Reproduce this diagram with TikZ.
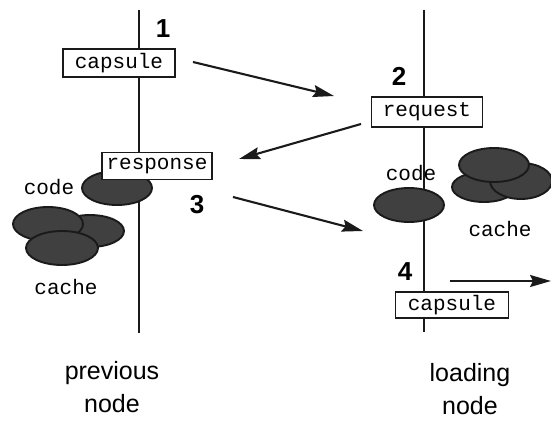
\documentclass[tikz,border=0pt]{standalone}
\usepackage{fontspec}
\setmainfont{Liberation Sans}
\setmonofont{Liberation Mono}
\usepackage{tikz}
\usetikzlibrary{shapes.geometric, arrows.meta, positioning}
\definecolor{inkdark}{HTML}{1A1A1A}
\definecolor{blobgrey}{HTML}{404040}

\begin{document}
\begin{tikzpicture}[x=1pt, y=-1pt,
  msgbox/.style={rectangle, draw=inkdark, fill=white, line width=1.9pt,
    minimum width=112pt, minimum height=28pt, inner sep=0pt,
    font=\ttfamily\fontsize{21}{21}\selectfont},
  blob/.style={ellipse, draw=inkdark, fill=blobgrey, line width=1.9pt,
    minimum width=70pt, minimum height=34pt, inner sep=0pt},
  monolabel/.style={font=\ttfamily\fontsize{21}{21}\selectfont, inner sep=0pt},
  stepnum/.style={font=\bfseries\fontsize{26}{26}\selectfont, inner sep=0pt},
  hostlabel/.style={font=\fontsize{25}{33}\selectfont, align=center, inner sep=0pt},
  timeline/.style={draw=inkdark, line width=2.1pt},
  arrow/.style={-{Stealth[length=21pt, width=12pt, inset=3pt]}, line width=2.1pt, draw=inkdark}
]
\useasboundingbox (0,0) rectangle (551,420);
\coordinate (prevtop) at (139,10);
\coordinate (prevbot) at (139,333);
\coordinate (loadtop) at (424,10);
\coordinate (loadbot) at (424,332);
\draw[timeline] (prevtop) -- (prevbot);
\draw[timeline] (loadtop) -- (loadbot);

\node[blob, minimum width=68pt, minimum height=32pt] (pcache3) at (90,231) {};
\node[blob] (pcache1) at (48,224) {};
\node[blob, minimum width=72pt] (pcache2) at (62,248) {};
\node[blob] (pcode) at (117,188) {};
\node[monolabel] (pcodelbl) at (49,187) {code};
\node[monolabel] (pcachelbl) at (66,287) {cache};

\node[blob, minimum width=64pt, minimum height=30pt] (lcache2) at (484,187) {};
\node[blob, minimum width=62pt, minimum height=36pt] (lcache3) at (521,181) {};
\node[blob] (lcache1) at (494,165) {};
\node[blob] (lcode) at (409,205) {};
\node[monolabel] (lcodelbl) at (411,173) {code};
\node[monolabel] (lcachelbl) at (500,229) {cache};

\node[msgbox] (capout) at (119,63) {capsule};
\node[msgbox, minimum width=110pt, minimum height=27pt] (resp) at (157,166) {response};
\node[msgbox, minimum width=111pt, minimum height=30pt] (req) at (427,112) {request};
\node[msgbox, minimum width=113pt, minimum height=26pt] (capfwd) at (452,305) {capsule};

\node[stepnum] (s1) at (163,29) {1};
\node[stepnum] (s2) at (399,76) {2};
\node[stepnum] (s3) at (197,205) {3};
\node[stepnum] (s4) at (405,272) {4};

\coordinate (a1from) at (193,62);
\coordinate (a1to) at (334,96);
\coordinate (a2from) at (361,124);
\coordinate (a2to) at (239,159);
\coordinate (a3from) at (233,197);
\coordinate (a3to) at (363,231);
\coordinate (a4from) at (450,281);
\coordinate (a4to) at (551,281);
\draw[arrow] (a1from) -- (a1to);
\draw[arrow] (a2from) -- (a2to);
\draw[arrow] (a3from) -- (a3to);
\draw[arrow] (a4from) -- (a4to);

\node[hostlabel] (prevnode) at (112,387) {previous\\node};
\node[hostlabel] (loadnode) at (470,389) {loading\\node};
\end{tikzpicture}
\end{document}
